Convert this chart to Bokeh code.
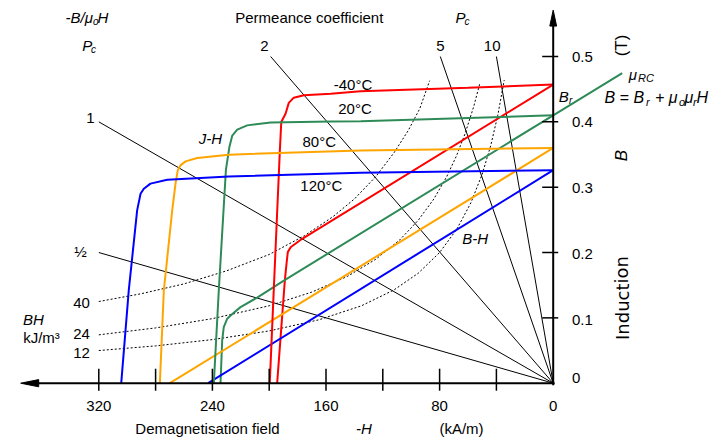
from bokeh.plotting import figure
from bokeh.models import Range1d
from bokeh.core.properties import value
from bokeh.embed import file_html
from bokeh.resources import INLINE

# ---------------- data (x = -H in kA/m, y = B in T) ----------------
temps = ["-40°C", "20°C", "80°C", "120°C"]
colors = ["#ff0000", "#2e8b57", "#ffa500", "#0000ff"]

# intrinsic J-H curves
jh_red_h = [0, 60, 135.7, 156.7, 175.6, 182.7, 186.2, 188.5, 191.5, 192.5, 196.8, 199.6]
jh_red_b = [0.457, 0.452, 0.447, 0.443, 0.4406, 0.437, 0.429, 0.4125, 0.3997, 0.356, 0.142, 0.0]
jh_green_h = [0, 135.5, 156.3, 199, 215.5, 222.5, 226, 228, 230.5, 235.5, 239]
jh_green_b = [0.41, 0.401, 0.4006, 0.399, 0.3946, 0.388, 0.379, 0.362, 0.326, 0.142, 0.0]
jh_orange_h = [0, 135.7, 228.4, 250.7, 258.9, 262.5, 264.4, 266, 268.3, 274.2, 277]
jh_orange_b = [0.36, 0.356, 0.3498, 0.3446, 0.3395, 0.3334, 0.3257, 0.305, 0.2645, 0.142, 0.0]
jh_blue_h = [0, 135.7, 228.4, 271.8, 283.6, 288.3, 290.6, 293, 298.9, 304.2]
jh_blue_b = [0.326, 0.322, 0.3165, 0.3115, 0.3054, 0.2977, 0.29, 0.2645, 0.142, 0.0]

# normal B-H curves
bh_red_h = [0, 176.8, 184.9, 186.9, 187.8, 189, 194.4]
bh_red_b = [0.457, 0.221, 0.208, 0.2006, 0.183, 0.157, 0.0]
bh_green_h = [-48.6, 0, 189.7, 208.5, 220.2, 226, 229.6, 232, 233.1, 234.3]
bh_green_b = [0.4747, 0.41, 0.157, 0.131, 0.1164, 0.106, 0.0986, 0.0858, 0.0654, 0.0]
bh_orange_h = [0, 270]
bh_orange_b = [0.36, 0.0]
bh_blue_h = [0, 243]
bh_blue_b = [0.326, 0.0]

# permeance-coefficient lines (from start point to origin)
pc_labels = ["½", "1", "2", "5", "10"]
pc_h = [320, 320, 199, 79.5, 40]
pc_b = [0.2, 0.4, 0.5, 0.5, 0.5]

# constant-energy (BH) curves
bh_labels = ["40", "24", "12"]
iso40_h = [320, 290, 260, 230, 200, 175, 155, 140, 125, 112, 102, 94, 87]
iso40_b = [0.125, 0.137, 0.152, 0.172, 0.197, 0.226, 0.255, 0.282, 0.316, 0.353, 0.387, 0.42, 0.463]
iso24_h = [320, 280, 240, 200, 170, 145, 125, 108, 95, 84, 75, 68, 62, 56, 51.5]
iso24_b = [0.074, 0.0846, 0.0988, 0.1185, 0.1394, 0.1634, 0.1896, 0.2194, 0.2495, 0.2821, 0.316, 0.3485, 0.3823, 0.4232, 0.4602]
iso12_h = [320, 280, 240, 200, 165, 135, 112, 95, 80, 68, 58, 50, 44, 39, 34.5]
iso12_b = [0.05, 0.0571, 0.0667, 0.08, 0.097, 0.1185, 0.1429, 0.1684, 0.2, 0.2353, 0.2759, 0.32, 0.3636, 0.4103, 0.4638]

# axes
x_ticks = [40, 80, 120, 160, 200, 240, 280, 320]
x_tick_labels = ["320", "240", "160", "80", "0"]
x_tick_label_vals = [320, 240, 160, 80, 0]
y_ticks = [0.1, 0.2, 0.3, 0.4, 0.5]
y_tick_labels = ["0", "0.1", "0.2", "0.3", "0.4", "0.5"]
y_tick_label_vals = [0, 0.1, 0.2, 0.3, 0.4, 0.5]
x_axis_end = 375.0
y_axis_end = 0.571

# ---------------- layout helpers (screen px -> data) ----------------
SX, X0PX, SY, Y0PX = 1.42, 552.7, 653.4, 382.7
def hx(px):
    return (X0PX - px) / SX
def by(py):
    return (Y0PX - py) / SY

W, H = 722, 437
p = figure(width=W, height=H, x_range=Range1d(hx(0), hx(W)), y_range=Range1d(by(H), by(0)),
           x_axis_location=None, y_axis_location=None, toolbar_location=None, title=None,
           min_border=0, output_backend="svg", outline_line_color=None,
           background_fill_color="white", border_fill_color="white")
p.xgrid.visible = False
p.ygrid.visible = False

FONT = "Liberation Sans"
def label(px, py, s, size=15, style="normal", align="center", baseline="middle", angle=0.0, font=FONT):
    p.text(x=[hx(px)], y=[by(py)], text=[s], text_font=value(font), text_font_size=f"{size}px",
           text_font_style=style, text_align=align, text_baseline=baseline, angle=angle,
           text_color="#000000")

# iso-energy dotted curves
for hh, bb in [(iso40_h, iso40_b), (iso24_h, iso24_b), (iso12_h, iso12_b)]:
    p.line(hh, bb, line_color="black", line_width=1, line_dash="2 2")

# permeance lines
p.segment(x0=pc_h, y0=pc_b, x1=[0] * len(pc_h), y1=[0] * len(pc_h), line_color="black", line_width=1)

# curves
jh = [(jh_red_h, jh_red_b), (jh_green_h, jh_green_b), (jh_orange_h, jh_orange_b), (jh_blue_h, jh_blue_b)]
bh = [(bh_red_h, bh_red_b), (bh_green_h, bh_green_b), (bh_orange_h, bh_orange_b), (bh_blue_h, bh_blue_b)]
for (hh, bb), c in zip(bh, colors):
    p.line(hh, bb, line_color=c, line_width=2)
for (hh, bb), c in zip(jh, colors):
    p.line(hh, bb, line_color=c, line_width=2)

# axes lines
p.line([-1, x_axis_end - 17 / SX], [0, 0], line_color="black", line_width=2)
p.line([0, 0], [-2 / SY, y_axis_end - 14 / SY], line_color="black", line_width=2)
p.patch([x_axis_end, x_axis_end - 18 / SX, x_axis_end - 18 / SX], [0, 3.6 / SY, -3.6 / SY],
        fill_color="black", line_color="black", line_width=1)
p.patch([0, 3.4 / SX, -3.4 / SX], [y_axis_end, y_axis_end - 16 / SY, y_axis_end - 16 / SY],
        fill_color="black", line_color="black", line_width=1)
p.segment(x0=x_ticks, y0=[14.5 / SY] * len(x_ticks), x1=x_ticks, y1=[-7.5 / SY] * len(x_ticks),
          line_color="black", line_width=1.5)
p.segment(x0=[11 / SX] * len(y_ticks), y0=y_ticks, x1=[-5 / SX] * len(y_ticks), y1=y_ticks,
          line_color="black", line_width=1.5)
p.text(x=x_tick_label_vals, y=[by(405)] * len(x_tick_label_vals), text=x_tick_labels,
       text_font=value(FONT), text_font_size="15px", text_align="center", text_baseline="middle",
       text_color="#000000")
p.text(x=[hx(571.5)] * len(y_tick_label_vals), y=y_tick_label_vals, text=y_tick_labels,
       text_font=value(FONT), text_font_size="15px", text_align="left", text_baseline="middle",
       text_color="#000000", y_offset=[-5, 2, 1, 1, 0, 0])

# axis titles
label(207, 427.5, "Demagnetisation field")
label(363.5, 427.5, "-H", style="italic")
label(461, 427.5, "(kA/m)")
label(621, 45, "(T)", size=17, angle=1.5708)
label(621, 155, "B", size=17, style="italic", angle=1.5708)
label(621.5, 297.5, "Induction", size=18, angle=1.5708, font="DejaVu Sans")

# top-left annotations
label(65, 17, "-B/μ", style="italic", align="left")
label(92.5, 21, "o", size=10, style="italic", align="left")
label(97, 17, "H", style="italic", align="left")
label(81.7, 45, "P", style="italic", align="left")
label(90.5, 49, "c", size=10, style="italic", align="left")
label(308.8, 17, "Permeance coefficient")
label(455, 17, "P", style="italic", align="left")
label(464, 21, "c", size=10, style="italic", align="left")

# Pc labels
for s, (px, py) in zip(pc_labels, [(80, 251), (90, 117.3), (264, 45), (440, 45), (491.7, 45)]):
    label(px, py, s)
# BH labels
for s, py in zip(bh_labels, [302.7, 333.3, 352.7]):
    label(81, py, s)
label(33, 319, "BH", style="italic")
label(22.7, 337, "kJ/m³", align="left")

# temperature labels
for s, (px, py) in zip(temps, [(352.5, 84), (354.5, 108.3), (318.7, 141), (320.8, 185)]):
    label(px, py, s)
label(210, 138.3, "J-H", style="italic")
label(474.7, 238.3, "B-H", style="italic")

# Br and recoil line annotations
label(558.3, 96, "B", style="italic", align="left")
label(568.5, 100, "r", size=10, style="italic", align="left")
label(628.3, 74, "μ", style="italic", align="left")
label(637.5, 77.5, "RC", size=11, style="italic", align="left")
label(604, 97.3, "B = B", size=16, style="italic", align="left")
label(645.5, 101, "r", size=11, style="italic", align="left")
label(654.5, 97.3, "+ μ", size=16, style="italic", align="left")
label(678.5, 101, "o", size=11, style="italic", align="left")
label(684, 97.3, "μ", size=16, style="italic", align="left")
label(692.5, 101, "r", size=11, style="italic", align="left")
label(696, 97.3, "H", size=16, style="italic", align="left")

open("out.html", "w").write(file_html(p, INLINE))
